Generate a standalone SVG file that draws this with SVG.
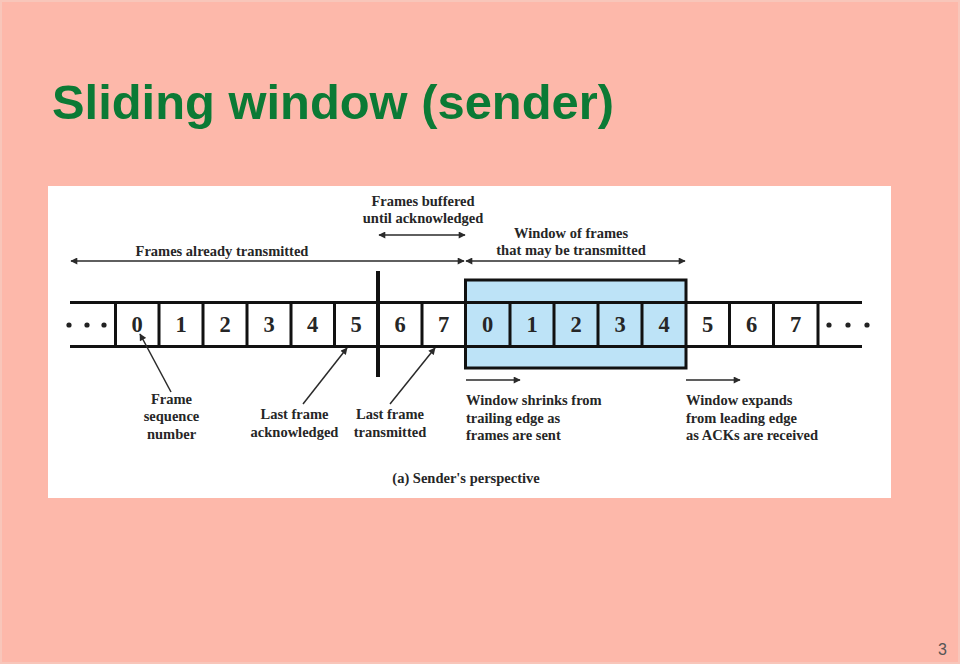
<svg xmlns="http://www.w3.org/2000/svg" width="960" height="664" viewBox="0 0 960 664">
<defs>
<marker id="ah" viewBox="0 0 10 10" refX="9" refY="5" markerWidth="9" markerHeight="7" markerUnits="userSpaceOnUse" orient="auto-start-reverse">
<path d="M0,0 L10,5 L0,10 Z" fill="#2a2a2a"/>
</marker>
</defs>
<style>
.lbl{font-family:"Liberation Serif","Times New Roman",serif;font-weight:bold;font-size:14.5px;fill:#262626}
.dig{font-family:"Liberation Serif","Times New Roman",serif;font-weight:bold;font-size:22.5px;fill:#262626;text-anchor:middle}
.mid{text-anchor:middle}
.ln{stroke:#2a2a2a;stroke-width:1.5;fill:none}
.tape{stroke:#111;stroke-width:3;fill:none}
.dot{fill:#222}
</style>
<rect x="0" y="0" width="960" height="664" fill="#FDB8AA"/>
<rect x="1" y="1" width="958" height="662" fill="none" stroke="#F8C6BA" stroke-width="2"/>
<text id="title" x="52" y="118.5" font-family="'Liberation Sans',Arial,sans-serif" font-weight="bold" font-size="49" textLength="562" lengthAdjust="spacingAndGlyphs" fill="#0B7A35">Sliding window (sender)</text>
<text id="page" x="947" y="655" font-family="'Liberation Sans',Arial,sans-serif" font-size="16" fill="#555" text-anchor="end">3</text>
<rect id="panel" x="48" y="186" width="843" height="312" fill="#FFFFFF"/>

<g id="window">
<rect x="465.5" y="280" width="220.5" height="88" fill="#BDE3F7"/>
</g>

<g id="tape">
<line class="tape" x1="70" y1="302.5" x2="862" y2="302.5"/>
<line class="tape" x1="70" y1="346.5" x2="862" y2="346.5"/>
<path class="tape" d="M115.5,302V346M159,302V346M203,302V346M247,302V346M291,302V346M334.5,302V346M422,302V346M510,302V346M554,302V346M598,302V346M642,302V346M729.5,302V346M773.5,302V346M818,302V346"/>
<line x1="378" y1="271" x2="378" y2="377" stroke="#111" stroke-width="4"/>
<rect x="465.5" y="280" width="220.5" height="88" fill="none" stroke="#111" stroke-width="3"/>
<circle class="dot" cx="69" cy="325" r="2.6"/>
<circle class="dot" cx="87" cy="325" r="2.6"/>
<circle class="dot" cx="104" cy="325" r="2.6"/>
<circle class="dot" cx="829" cy="325" r="2.6"/>
<circle class="dot" cx="848" cy="325" r="2.6"/>
<circle class="dot" cx="867" cy="325" r="2.6"/>
</g>

<g id="cells">
<text class="dig" x="137.2" y="332">0</text>
<text class="dig" x="181" y="332">1</text>
<text class="dig" x="225" y="332">2</text>
<text class="dig" x="269" y="332">3</text>
<text class="dig" x="312.7" y="332">4</text>
<text class="dig" x="356.2" y="332">5</text>
<text class="dig" x="400" y="332">6</text>
<text class="dig" x="443.7" y="332">7</text>
<text class="dig" x="487.7" y="332">0</text>
<text class="dig" x="532" y="332">1</text>
<text class="dig" x="576" y="332">2</text>
<text class="dig" x="620" y="332">3</text>
<text class="dig" x="664" y="332">4</text>
<text class="dig" x="707.7" y="332">5</text>
<text class="dig" x="751.5" y="332">6</text>
<text class="dig" x="795.7" y="332">7</text>
</g>

<g id="label-already">
<text class="lbl mid" x="222" y="256">Frames already transmitted</text>
</g>
<g id="label-buffered">
<text class="lbl mid" x="423" y="206">Frames buffered</text>
<text class="lbl mid" x="423" y="223">until acknowledged</text>
</g>
<g id="label-window">
<text class="lbl mid" x="571" y="237.5">Window of frames</text>
<text class="lbl mid" x="571" y="254.5">that may be transmitted</text>
</g>
<g id="label-seq">
<text class="lbl mid" x="171.5" y="403.5">Frame</text>
<text class="lbl mid" x="171.5" y="421">sequence</text>
<text class="lbl mid" x="171.5" y="438.5">number</text>
</g>
<g id="label-lastack">
<text class="lbl mid" x="294.5" y="419">Last frame</text>
<text class="lbl mid" x="294.5" y="436.5">acknowledged</text>
</g>
<g id="label-lasttx">
<text class="lbl mid" x="390" y="419">Last frame</text>
<text class="lbl mid" x="390" y="436.5">transmitted</text>
</g>
<g id="label-shrinks">
<text class="lbl" x="466" y="405">Window shrinks from</text>
<text class="lbl" x="466" y="422.5">trailing edge as</text>
<text class="lbl" x="466" y="440">frames are sent</text>
</g>
<g id="label-expands">
<text class="lbl" x="686" y="405">Window expands</text>
<text class="lbl" x="686" y="422.5">from leading edge</text>
<text class="lbl" x="686" y="440">as ACKs are received</text>
</g>
<g id="caption">
<text class="lbl mid" x="466" y="483">(a) Sender's perspective</text>
</g>

<g id="connectors">
<line class="ln" x1="71" y1="261" x2="464" y2="261" marker-start="url(#ah)" marker-end="url(#ah)"/>
<line class="ln" x1="379" y1="235" x2="465" y2="235" marker-start="url(#ah)" marker-end="url(#ah)"/>
<line class="ln" x1="466" y1="261" x2="685" y2="261" marker-start="url(#ah)" marker-end="url(#ah)"/>
<line class="ln" x1="171" y1="392" x2="140" y2="334" marker-end="url(#ah)"/>
<line class="ln" x1="303" y1="404" x2="347" y2="348" marker-end="url(#ah)"/>
<line class="ln" x1="390" y1="404" x2="435" y2="348" marker-end="url(#ah)"/>
<line class="ln" x1="466" y1="380" x2="520" y2="380" marker-end="url(#ah)"/>
<line class="ln" x1="686" y1="380" x2="740" y2="380" marker-end="url(#ah)"/>
</g>
</svg>
